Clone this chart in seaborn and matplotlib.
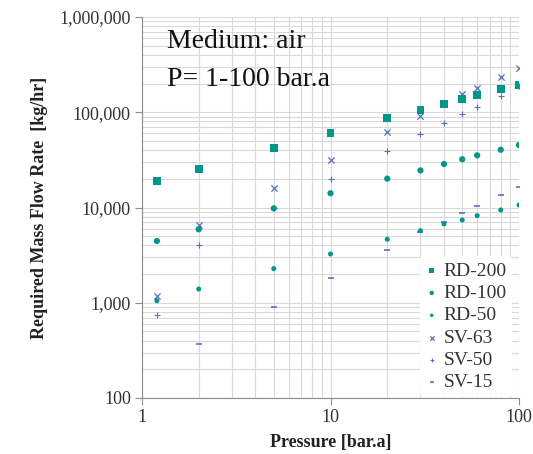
import numpy as np
import pandas as pd
import matplotlib
matplotlib.use("Agg")
import matplotlib.pyplot as plt
import seaborn as sns
from matplotlib.ticker import FuncFormatter, LogLocator, NullFormatter

pressure = [1.2, 2, 5, 10, 20, 30, 40, 50, 60, 80, 100]
rd200 = [19100, 25400, 42200, 60100, 86300, 105600, 122000, 136700, 150700, 174000, 193000]
rd100 = [4450, 5900, 9800, 14100, 20100, 24500, 28600, 32100, 35300, 40400, 45300]
rd50 = [1050, 1394, 2280, 3250, 4640, 5710, 6720, 7390, 8210, 9420, 10620]
sv63 = [1178, 6550, 15900, 31500, 62500, 91400, 122000, 154000, 181000, 236000, 289000]
sv50 = [744, 4040, 10000, 19900, 39500, 58600, 77800, 95900, 112700, 148000, 190000]
sv15 = [np.nan, 366, 910, 1804, 3580, 5490, 7000, 8690, 10370, 13430, 16520]

series_names = ["RD-200", "RD-100", "RD-50", "SV-63", "SV-50", "SV-15"]
series_vals = [rd200, rd100, rd50, sv63, sv50, sv15]

teal = "#00968a"
blue = "#5a6ec0"
styles = {
    "RD-200": dict(marker="s", color=teal, s=32, z=6, lw=0),
    "RD-100": dict(marker="o", color=teal, s=20, z=5, lw=0),
    "RD-50": dict(marker="o", color=teal, s=13, z=5, lw=0),
    "SV-63": dict(marker="x", color=blue, s=20, z=4, lw=0.9),
    "SV-50": dict(marker="+", color=blue, s=22, z=4, lw=0.8),
    "SV-15": dict(marker="_", color=blue, s=22, z=4, lw=1.2),
}

plt.rcParams["font.family"] = ["Liberation Serif", "DejaVu Serif"]

fig = plt.figure(figsize=(5.33, 4.54), dpi=100)
ax = fig.add_axes([142/533, 1-398/454, (519-142)/533, (398-17)/454])

for name, vals in zip(series_names, series_vals):
    st = styles[name]
    df = pd.DataFrame({"p": pressure, "v": vals}).dropna()
    sns.scatterplot(data=df, x="p", y="v", ax=ax, marker=st["marker"], color=st["color"],
                    s=st["s"], linewidth=st["lw"], edgecolor=st["color"] if st["lw"] else "none",
                    zorder=st["z"], label=name)

ax.set_xscale("log")
ax.set_yscale("log")
ax.set_xlim(1, 100)
ax.set_ylim(100, 1e6)

ax.xaxis.set_major_locator(LogLocator(base=10))
ax.yaxis.set_major_locator(LogLocator(base=10))
ax.xaxis.set_minor_locator(LogLocator(base=10, subs=np.arange(2, 10)))
ax.yaxis.set_minor_locator(LogLocator(base=10, subs=np.arange(2, 10)))
ax.xaxis.set_minor_formatter(NullFormatter())
ax.yaxis.set_minor_formatter(NullFormatter())
ax.xaxis.set_major_formatter(FuncFormatter(lambda v, p: f"{int(round(v)):,}"))
ax.yaxis.set_major_formatter(FuncFormatter(lambda v, p: f"{int(round(v)):,}"))

ax.grid(True, which="both", color="#d9d9d9", linewidth=0.8)
ax.set_axisbelow(True)
for sp in ["top", "right"]:
    ax.spines[sp].set_visible(False)
for sp in ["left", "bottom"]:
    ax.spines[sp].set_color("#8c8c8c")
    ax.spines[sp].set_linewidth(0.8)
ax.tick_params(which="major", length=5, width=0.8, color="#8c8c8c", labelsize=13,
               labelcolor="#333333", pad=3)
ax.tick_params(which="minor", length=0)

ax.set_xlabel("Pressure [bar.a]", fontsize=13, fontweight="bold", color="#222222", labelpad=6)
ax.set_ylabel("Required Mass Flow Rate  [kg/hr]", fontsize=13, fontweight="bold",
              color="#222222", labelpad=8)

ax.text(0.066, 0.918, "Medium: air", transform=ax.transAxes, fontsize=20, va="baseline",
        ha="left", color="#111111", zorder=10)
ax.text(0.066, 0.819, "P= 1-100 bar.a", transform=ax.transAxes, fontsize=20, va="baseline",
        ha="left", color="#111111", zorder=10)

leg = ax.legend(loc="lower right", bbox_to_anchor=(0.985, 0.0), frameon=True, fontsize=14,
                handletextpad=0.3, labelspacing=0.24, borderpad=0.3, handlelength=0.6,
                borderaxespad=0.05, markerscale=0.7)
leg.get_frame().set_edgecolor("none")
leg.get_frame().set_facecolor("white")
leg.get_frame().set_alpha(1.0)
for t in leg.get_texts():
    t.set_color("#333333")

fig.savefig("out.png", dpi=100)
